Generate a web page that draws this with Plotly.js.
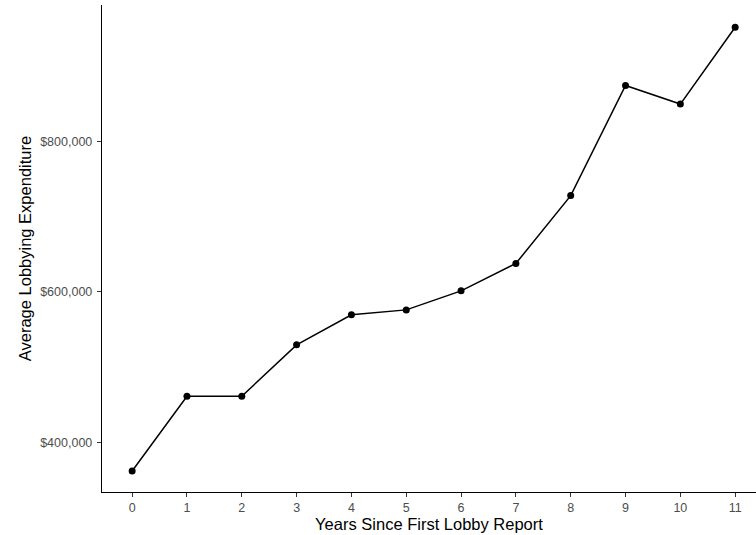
<!DOCTYPE html>
<html>
<head>
<meta charset="utf-8">
<script src="https://cdn.plot.ly/plotly-3.0.1.min.js"></script>
<style>html,body{margin:0;padding:0;background:#fff;}#chart{width:756px;height:535px;}</style>
</head>
<body>
<div id="chart"></div>
<script>
const years = [0, 1, 2, 3, 4, 5, 6, 7, 8, 9, 10, 11];
const avgExpenditure = [361900, 461200, 461200, 529500, 569500, 576000, 601300, 637700, 727900, 874300, 849600, 951800];
const yTickVals = [400000, 600000, 800000];
const yTickText = ['$400,000', '$600,000', '$800,000'];

const trace = {
  x: years,
  y: avgExpenditure,
  type: 'scatter',
  mode: 'lines+markers',
  line: {color: '#000000', width: 1.5},
  marker: {color: '#000000', size: 7},
  hoverinfo: 'x+y'
};

const layout = {
  width: 756,
  height: 535,
  margin: {l: 102, r: 0, t: 5, b: 43},
  paper_bgcolor: '#ffffff',
  plot_bgcolor: '#ffffff',
  showlegend: false,
  font: {family: 'Liberation Sans, Arial, sans-serif'},
  xaxis: {
    range: [-0.55, 11.38],
    tickvals: years,
    ticktext: years.map(String),
    showgrid: false,
    zeroline: false,
    showline: true,
    linecolor: '#000000',
    linewidth: 1.2,
    ticks: 'outside',
    ticklen: 4,
    tickcolor: '#333333',
    tickwidth: 1,
    ticklabelstandoff: 0,
    tickfont: {size: 12.5, color: '#4d4d4d'},
    title: {text: 'Years Since First Lobby Report', font: {size: 16.5, color: '#000000'}, standoff: 4}
  },
  yaxis: {
    range: [333900, 981300],
    tickvals: yTickVals,
    ticktext: yTickText,
    showgrid: false,
    zeroline: false,
    showline: true,
    linecolor: '#000000',
    linewidth: 1.2,
    ticks: 'outside',
    ticklen: 4,
    tickcolor: '#333333',
    tickwidth: 1,
    ticklabelstandoff: 2,
    tickfont: {size: 12.5, color: '#4d4d4d'},
    title: {text: 'Average Lobbying Expenditure', font: {size: 16.5, color: '#000000'}, standoff: 4}
  }
};

Plotly.newPlot('chart', [trace], layout, {displayModeBar: false, staticPlot: true});
</script>
</body>
</html>
